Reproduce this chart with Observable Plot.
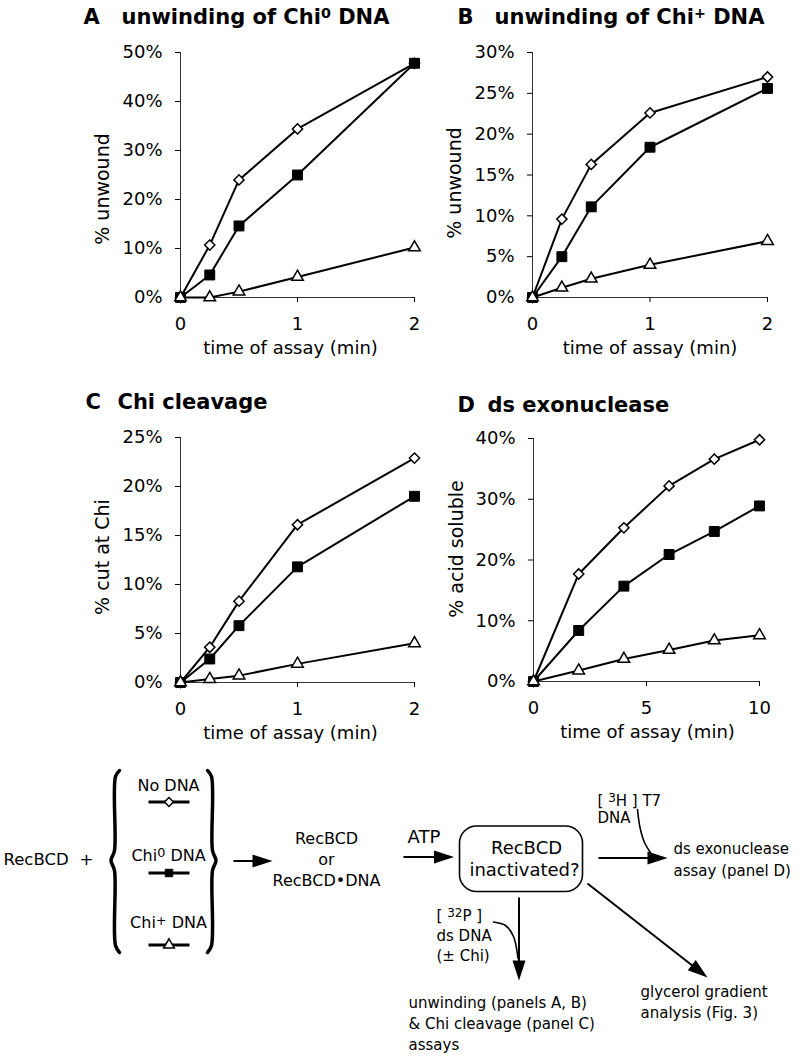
<!DOCTYPE html>
<html><head><meta charset="utf-8">
<script src="https://cdn.jsdelivr.net/npm/d3@7"></script>
<script src="https://cdn.jsdelivr.net/npm/@observablehq/plot@0.6"></script>
<style>
body { margin:0; background:#fff; }
#page { position: relative; width: 800px; height: 1056px; overflow: hidden; background: #fff; }
#page > div { position: absolute; }
svg { overflow: visible; }
</style></head><body><div id="page"></div>
<script>
// ---------- data ----------
const seriesNames = ["No DNA", "Chi0 DNA", "Chi+ DNA"];
const timesShort = [0, 0.25, 0.5, 1, 2];
const timesLong = [0, 2, 4, 6, 8, 10];

// Panel A: unwinding of Chi0 DNA (%)
const aNoDNA = [0, 10.7, 24.0, 34.4, 47.8];
const aChi0 = [0, 4.6, 14.6, 25.0, 47.8];
const aChiPlus = [0, 0, 1.2, 4.2, 10.2];
// Panel B: unwinding of Chi+ DNA (%)
const bNoDNA = [0, 9.6, 16.3, 22.6, 27.0];
const bChi0 = [0, 5.0, 11.1, 18.4, 25.6];
const bChiPlus = [0, 1.2, 2.3, 4.0, 6.9];
// Panel C: Chi cleavage (%)
const cNoDNA = [0, 3.6, 8.3, 16.1, 22.9];
const cChi0 = [0, 2.4, 5.8, 11.8, 19.0];
const cChiPlus = [0, 0.35, 0.7, 1.9, 4.0];
// Panel D: ds exonuclease (%)
const dNoDNA = [0, 17.7, 25.3, 32.2, 36.6, 39.8];
const dChi0 = [0, 8.4, 15.7, 20.9, 24.7, 28.9];
const dChiPlus = [0, 1.8, 3.7, 5.2, 6.75, 7.6];

const yTicksA = [0, 0.1, 0.2, 0.3, 0.4, 0.5];
const yTicksB = [0, 0.05, 0.1, 0.15, 0.2, 0.25, 0.3];
const yTicksC = [0, 0.05, 0.1, 0.15, 0.2, 0.25];
const yTicksD = [0, 0.1, 0.2, 0.3, 0.4];
const xTicksShort = [0, 1, 2];
const xTicksLong = [0, 5, 10];
const xLabel = "time of assay (min)";

// ---------- diagram layout (schematic, not data) ----------
const titleTexts = [
  {x: 83, y: 23.5, t: "A"}, {x: 121, y: 23.5, t: "unwinding of Chi^0^ DNA"},
  {x: 457, y: 23.5, t: "B"}, {x: 494, y: 23.5, t: "unwinding of Chi^+^ DNA"},
  {x: 85, y: 408, t: "C"}, {x: 117, y: 408, t: "Chi cleavage"},
  {x: 457, y: 411, t: "D"}, {x: 487, y: 411, t: "ds exonuclease"}
];
const diagStart = [
  {x: 3, y: 864, t: "RecBCD", s: 16.5},
  {x: 407, y: 842, t: "ATP", s: 18},
  {x: 597, y: 805, t: "[ ^3^H ] T7", s: 15},
  {x: 597, y: 822, t: "DNA", s: 15},
  {x: 673, y: 853.5, t: "ds exonuclease", s: 15},
  {x: 673, y: 875, t: "assay (panel D)", s: 15},
  {x: 436, y: 920, t: "[ ^32^P ]", s: 15},
  {x: 436, y: 940, t: "ds DNA", s: 15},
  {x: 436, y: 960, t: "(± Chi)", s: 15},
  {x: 408, y: 1007, t: "unwinding (panels A, B)", s: 15},
  {x: 408, y: 1028.5, t: "& Chi cleavage (panel C)", s: 15},
  {x: 408, y: 1049, t: "assays", s: 15},
  {x: 640, y: 996.5, t: "glycerol gradient", s: 15},
  {x: 640, y: 1017, t: "analysis (Fig. 3)", s: 15}
];
const diagMiddle = [
  {x: 86, y: 864, t: "+", s: 16.5},
  {x: 168, y: 790, t: "No DNA", s: 16},
  {x: 168, y: 860, t: "Chi^0^ DNA", s: 16},
  {x: 168, y: 927.5, t: "Chi^+^ DNA", s: 16},
  {x: 326, y: 843, t: "RecBCD", s: 16},
  {x: 326, y: 864, t: "or", s: 16},
  {x: 326, y: 885, t: "RecBCD•DNA", s: 16},
  {x: 526, y: 853.5, t: "RecBCD", s: 18},
  {x: 524, y: 875, t: "inactivated?", s: 18}
];
const arrows = [
  {x1: 233, y1: 860.5, x2: 272, y2: 860.5},
  {x1: 403, y1: 856.5, x2: 453.5, y2: 856.5},
  {x1: 598, y1: 857.5, x2: 667, y2: 857.5},
  {x1: 518.5, y1: 897, x2: 518.5, y2: 980},
  {x1: 587, y1: 883, x2: 707, y2: 977}
];
const hooks = [
  {id: "h3", x: 637, y: 809}, {id: "h3", x: 639.5, y: 827}, {id: "h3", x: 644, y: 842}, {id: "h3", x: 652, y: 855},
  {id: "p32", x: 493, y: 921.5}, {id: "p32", x: 505, y: 925}, {id: "p32", x: 513, y: 936}, {id: "p32", x: 517.5, y: 958}
];
const braces = [
  {id: "L", x: 119, y: 770}, {id: "L", x: 115, y: 776}, {id: "L", x: 114, y: 850}, {id: "L", x: 110.5, y: 860}, {id: "L", x: 114, y: 870}, {id: "L", x: 115, y: 945}, {id: "L", x: 119, y: 952},
  {id: "R", x: 207, y: 770}, {id: "R", x: 211, y: 776}, {id: "R", x: 212, y: 850}, {id: "R", x: 215.5, y: 860}, {id: "R", x: 212, y: 870}, {id: "R", x: 211, y: 945}, {id: "R", x: 207, y: 952}
];
const legendRows = [
  {y: 801.5, sym: "diamond2"},
  {y: 872.5, sym: "square"},
  {y: 944.5, sym: "triangle"}
];
const box = [{x1: 459.5, x2: 582.5, y1: 826, y2: 891.5}];

// ---------- helpers ----------
const page = document.getElementById("page");
function place(el, left, top) {
  const div = document.createElement("div");
  div.style.left = left + "px"; div.style.top = top + "px";
  div.appendChild(el); page.appendChild(div);
  return el;
}
function superscripts(svg) {
  d3.select(svg).selectAll("text").each(function () {
    if (this.querySelector("tspan")) return;
    const t = this.textContent;
    if (!t.includes("^")) return;
    const F = parseFloat(getComputedStyle(this).fontSize) || 16;
    const big = F >= 20;
    const supPx = F * (big ? 0.68 : 0.8);
    const raise = big ? 6 : 3.5;
    const parts = t.split("^");
    const sel = d3.select(this);
    sel.text(null);
    let pending = false;
    parts.forEach((p, i) => {
      if (!p) return;
      const ts = sel.append("tspan").text(p);
      if (i % 2 === 1) { ts.attr("font-size", supPx + "px").attr("dy", -raise); pending = true; }
      else if (pending) { ts.attr("dy", raise); pending = false; }
    });
  });
}
const arrowHead = {
  draw(ctx) { const L = 20, W = 6.5; ctx.moveTo(0, 0); ctx.lineTo(-L, -W); ctx.lineTo(-L, W); ctx.closePath(); }
};

// ---------- annotation / diagram layer ----------
const arrowLines = arrows.map(a => {
  const ang = Math.atan2(a.y2 - a.y1, a.x2 - a.x1);
  return {...a, x2: a.x2 - 8 * Math.cos(ang), y2: a.y2 - 8 * Math.sin(ang), a: ang * 180 / Math.PI};
});
const legendSegs = legendRows.map(r => ({...r, x1: 148, x2: 189, x: 168.5}));
const anno = Plot.plot({
  width: 800, height: 1056, margin: 0,
  style: {fontFamily: "DejaVu Sans", fontSize: "16px", background: "transparent", overflow: "visible", color: "#000"},
  x: {domain: [0, 800], range: [0, 800], axis: null},
  y: {domain: [0, 1056], range: [0, 1056], axis: null},
  marks: [
    Plot.text(titleTexts, {x: "x", y: "y", text: "t", fontSize: 21, fontWeight: "bold", textAnchor: "start", lineAnchor: "bottom"}),
    Plot.text(diagStart, {x: "x", y: "y", text: "t", fontSize: "s", textAnchor: "start", lineAnchor: "bottom"}),
    Plot.text(diagMiddle, {x: "x", y: "y", text: "t", fontSize: "s", textAnchor: "middle", lineAnchor: "bottom"}),
    Plot.line(braces, {x: "x", y: "y", z: "id", curve: "catmull-rom", stroke: "black", strokeWidth: 3.5}),
    Plot.link(legendSegs, {x1: "x1", x2: "x2", y1: "y", y2: "y", stroke: "black", strokeWidth: 3}),
    Plot.dot(legendSegs.filter(d => d.sym === "diamond2"), {x: "x", y: "y", symbol: "diamond2", r: 4, fill: "white", stroke: "black", strokeWidth: 1.5}),
    Plot.dot(legendSegs.filter(d => d.sym === "square"), {x: "x", y: "y", symbol: "square", r: 4.2, fill: "black", stroke: "black", strokeWidth: 1}),
    Plot.dot(legendSegs.filter(d => d.sym === "triangle"), {x: "x", y: "y", symbol: "triangle", r: 4, fill: "white", stroke: "black", strokeWidth: 1.5}),
    Plot.rect(box, {x1: "x1", x2: "x2", y1: "y1", y2: "y2", rx: 17, fill: "none", stroke: "black", strokeWidth: 1.6}),
    Plot.line(hooks, {x: "x", y: "y", z: "id", curve: "catmull-rom", stroke: "black", strokeWidth: 1.6}),
    Plot.link(arrowLines, {x1: "x1", y1: "y1", x2: "x2", y2: "y2", stroke: "black", strokeWidth: 2}),
    Plot.dot(arrows.map((a, i) => ({x: a.x2, y: a.y2, a: arrowLines[i].a})), {x: "x", y: "y", rotate: "a", symbol: arrowHead, r: 5, fill: "black", stroke: "none"})
  ]
});
place(anno, 0, 0);
superscripts(anno);

// ---------- chart panels ----------
function panel(o) {
  const rows = [];
  o.series.forEach((vals, s) => vals.forEach((v, i) => rows.push({t: o.times[i], v: v / 100, s: seriesNames[s]})));
  const sel = name => rows.filter(d => d.s === name);
  const plot = Plot.plot({
    width: o.width, height: o.height,
    marginLeft: o.mL, marginRight: o.mR, marginTop: o.mT, marginBottom: o.mB,
    style: {fontFamily: "DejaVu Sans", fontSize: "18px", background: "transparent", overflow: "visible", color: "#000"},
    x: {domain: [0, o.xMax]},
    y: {domain: [0, o.yMax]},
    marks: [
      Plot.ruleX([0], {stroke: "#333", strokeWidth: 1}),
      Plot.ruleY([0], {stroke: "#333", strokeWidth: 1}),
      Plot.axisY({ticks: o.yTicks, tickFormat: d3.format(".0%"), tickSize: 5, tickPadding: 13, label: null}),
      Plot.axisX({ticks: o.xTicks, tickFormat: d => String(d), tickSize: 5, tickPadding: 15, label: null}),
      Plot.line(rows, {x: "t", y: "v", z: "s", stroke: "black", strokeWidth: 2}),
      Plot.dot(sel(seriesNames[0]), {x: "t", y: "v", symbol: "diamond2", r: 4.6, fill: "white", stroke: "black", strokeWidth: 1.5}),
      Plot.dot(sel(seriesNames[1]), {x: "t", y: "v", symbol: "square", r: 5.6, fill: "black", stroke: "black", strokeWidth: 1}),
      Plot.dot(sel(seriesNames[2]), {x: "t", y: "v", symbol: "triangle", r: 4.3, fill: "white", stroke: "black", strokeWidth: 1.5}),
      Plot.text([o.yLabel], {frameAnchor: "left", rotate: -90, dx: o.yLabelDx, dy: o.yLabelDy, textAnchor: "middle", lineAnchor: "bottom", fontSize: 19}),
      Plot.text([xLabel], {frameAnchor: "bottom", dx: o.xLabelDx, dy: 56, textAnchor: "middle", lineAnchor: "bottom", fontSize: 18})
    ]
  });
  return place(plot, o.left, o.top);
}

panel({times: timesShort, series: [aNoDNA, aChi0, aChiPlus], yMax: 0.5, yTicks: yTicksA, xMax: 2, xTicks: xTicksShort,
  yLabel: "% unwound", left: 0, top: 0, width: 440, height: 370, mL: 180, mR: 26, mT: 52, mB: 73, yLabelDx: -72, yLabelDy: 14, xLabelDx: -7});
panel({times: timesShort, series: [bNoDNA, bChi0, bChiPlus], yMax: 0.3, yTicks: yTicksB, xMax: 2, xTicks: xTicksShort,
  yLabel: "% unwound", left: 400, top: 0, width: 400, height: 370, mL: 132, mR: 33, mT: 52, mB: 73, yLabelDx: -72, yLabelDy: 8, xLabelDx: 0});
panel({times: timesShort, series: [cNoDNA, cChi0, cChiPlus], yMax: 0.25, yTicks: yTicksC, xMax: 2, xTicks: xTicksShort,
  yLabel: "% cut at Chi", left: 0, top: 380, width: 440, height: 380, mL: 180, mR: 26, mT: 57, mB: 78, yLabelDx: -72, yLabelDy: -3, xLabelDx: -7});
panel({times: timesLong, series: [dNoDNA, dChi0, dChiPlus], yMax: 0.4, yTicks: yTicksD, xMax: 10, xTicks: xTicksLong,
  yLabel: "% acid soluble", left: 400, top: 380, width: 400, height: 380, mL: 133, mR: 41, mT: 58, mB: 79, yLabelDx: -71, yLabelDy: -11, xLabelDx: 1});
</script></body></html>
